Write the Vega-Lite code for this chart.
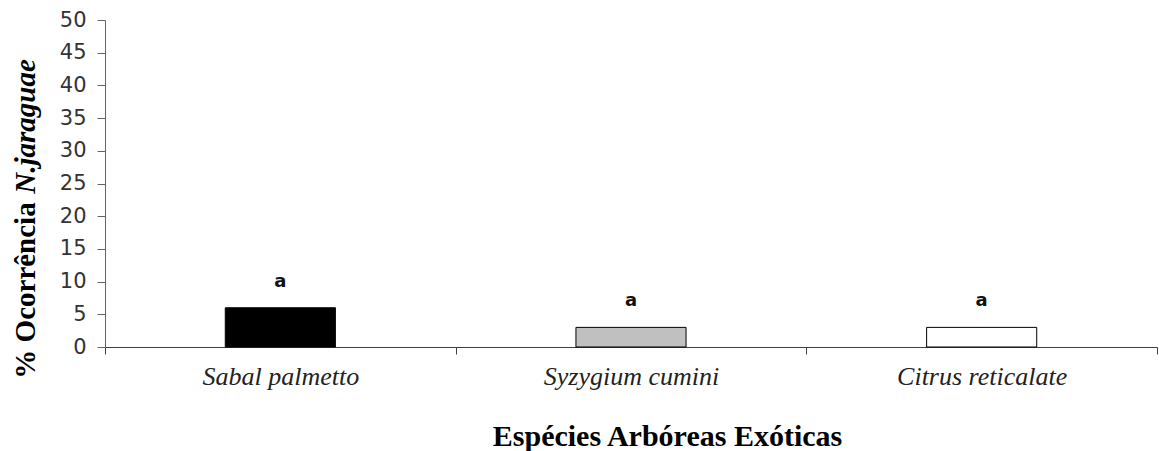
{
  "$schema": "https://vega.github.io/schema/vega-lite/v6.json",
  "autosize": "none",
  "padding": {"left": 105, "top": 20, "right": 2, "bottom": 104},
  "width": 1052,
  "height": 327,
  "background": "white",
  "config": {"view": {"stroke": null}},
  "data": {"values": [
    {"especie": "Sabal palmetto", "valor": 6, "letra": "a"},
    {"especie": "Syzygium cumini", "valor": 3, "letra": "a"},
    {"especie": "Citrus reticalate", "valor": 3, "letra": "a"}
  ]},
  "resolve": {"axis": {"y": "independent"}},
  "layer": [
    {
      "mark": {"type": "bar", "width": {"band": 0.314}, "stroke": "black", "strokeWidth": 1},
      "encoding": {
        "x": {
          "field": "especie", "type": "nominal", "sort": null,
          "scale": {"paddingInner": 0, "paddingOuter": 0},
          "axis": {
            "title": "Espécies Arbóreas Exóticas",
            "titleFont": "Liberation Serif", "titleFontSize": 30, "titleFontWeight": "bold", "titleColor": "black",
            "titleBaseline": "alphabetic", "titleX": 562, "titleY": 98, "titleAnchor": "middle", "titleAlign": "center",
            "labelFont": "Liberation Serif", "labelFontSize": 26, "labelFontStyle": "italic", "labelColor": "#222222",
            "labelAngle": 0, "labelPadding": 9,
            "tickBand": "extent", "tickSize": 7, "tickColor": "#404040", "domainColor": "#404040",
            "grid": false
          }
        },
        "y": {
          "field": "valor", "type": "quantitative",
          "scale": {"domain": [0, 50], "nice": false},
          "axis": {
            "values": [0, 5, 10, 15, 20, 25, 30, 35, 40, 45, 50],
            "title": "% Ocorrência",
            "titleFont": "Liberation Serif", "titleFontSize": 29, "titleFontWeight": "bold", "titleColor": "black",
            "titleAngle": -90, "titleBaseline": "middle", "titleAlign": "center", "titleX": -80, "titleY": 270,
            "labelFont": "DejaVu Sans", "labelFontSize": 21, "labelColor": "#333333", "labelPadding": 11,
            "tickSize": 8, "tickColor": "#666666", "domainColor": "#666666", "grid": false
          }
        },
        "fill": {
          "field": "especie", "type": "nominal", "sort": null,
          "scale": {"domain": ["Sabal palmetto", "Syzygium cumini", "Citrus reticalate"], "range": ["#000000", "#c0c0c0", "#ffffff"]},
          "legend": null
        }
      }
    },
    {
      "mark": {"type": "text", "dy": -26, "baseline": "middle", "font": "DejaVu Sans", "fontSize": 18, "fontWeight": "bold", "color": "#111111"},
      "encoding": {
        "x": {"field": "especie", "type": "nominal", "sort": null},
        "y": {
          "field": "valor", "type": "quantitative",
          "axis": {
            "orient": "left",
            "title": "N.jaraguae",
            "titleFont": "Liberation Serif", "titleFontSize": 29, "titleFontWeight": "bold", "titleFontStyle": "italic", "titleColor": "black",
            "titleAngle": -90, "titleBaseline": "middle", "titleAlign": "center", "titleX": -80, "titleY": 106,
            "labels": false, "ticks": false, "domain": false, "grid": false
          }
        },
        "text": {"field": "letra"}
      }
    }
  ]
}
